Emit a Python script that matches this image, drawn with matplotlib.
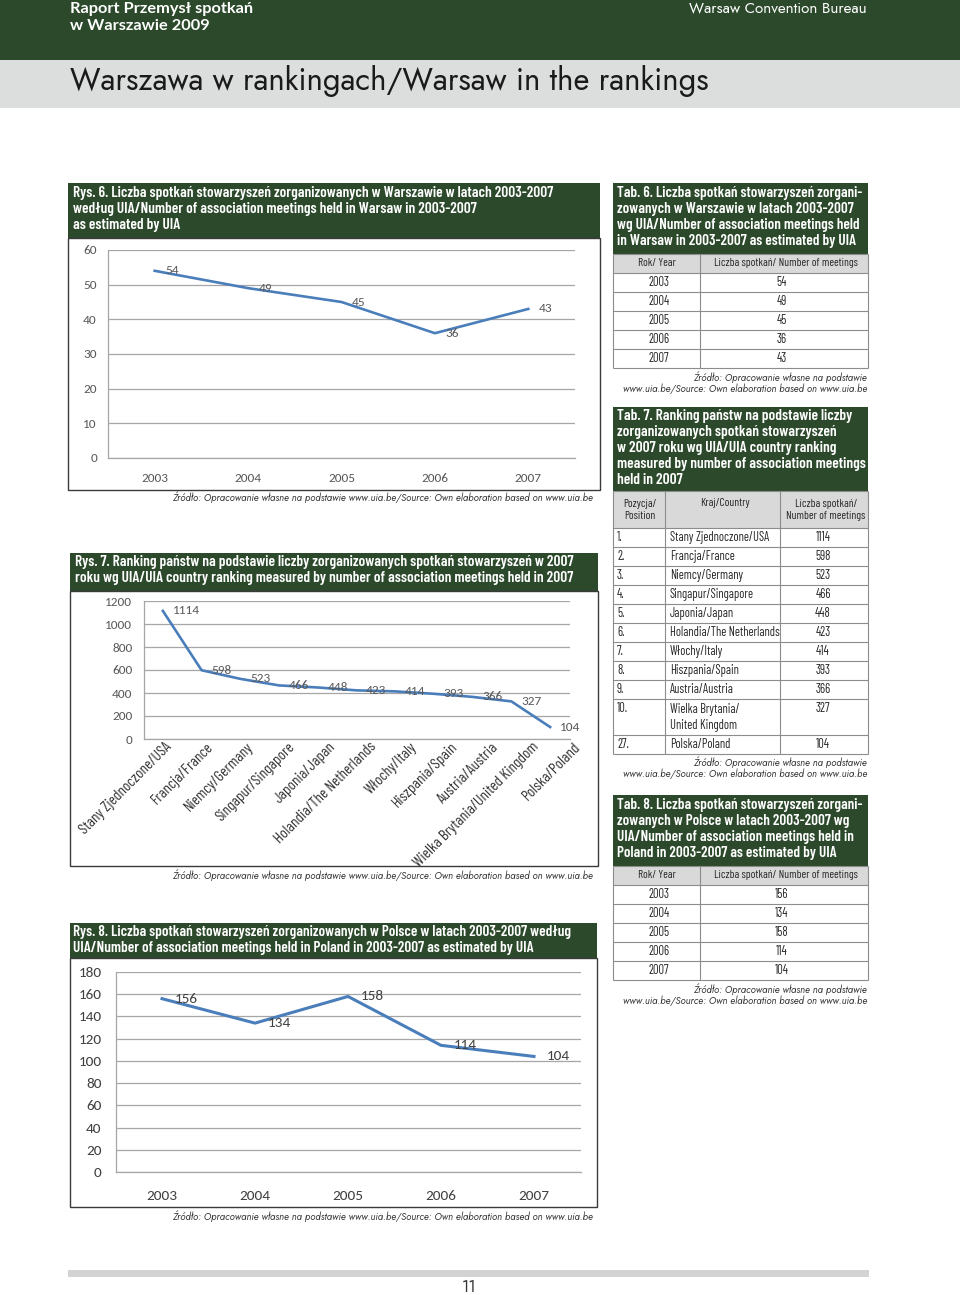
import matplotlib
matplotlib.use('Agg')
import matplotlib.pyplot as plt
from matplotlib import font_manager as fm
from matplotlib.patches import Rectangle

# ---------------- data ----------------
years = ['2003', '2004', '2005', '2006', '2007']
warsaw_meetings = [54, 49, 45, 36, 43]
poland_meetings = [156, 134, 158, 114, 104]
rank_positions = ['1.', '2.', '3.', '4.', '5.', '6.', '7.', '8.', '9.', '10.', '27.']
countries = ['Stany Zjednoczone/USA', 'Francja/France', 'Niemcy/Germany',
             'Singapur/Singapore', 'Japonia/Japan', 'Holandia/The Netherlands',
             'Włochy/Italy', 'Hiszpania/Spain', 'Austria/Austria',
             'Wielka Brytania/United Kingdom', 'Polska/Poland']
country_meetings = [1114, 598, 523, 466, 448, 423, 414, 393, 366, 327, 104]
warsaw_ticks = [0, 10, 20, 30, 40, 50, 60]
country_ticks = [0, 200, 400, 600, 800, 1000, 1200]
poland_ticks = [0, 20, 40, 60, 80, 100, 120, 140, 160, 180]

# ---------------- fonts ----------------
avail = {f.name for f in fm.fontManager.ttflist}


def pick(cands, default):
    for n in cands:
        if n in avail:
            return n
    return default


COND = pick(['Barlow Condensed', 'Asap Condensed', 'Archivo Narrow',
             'Liberation Sans Narrow', 'DejaVu Sans Condensed'], 'DejaVu Sans')
CK = dict(family=[COND, 'DejaVu Sans'])
if COND == 'DejaVu Sans':
    CK['stretch'] = 'condensed'
FUT = pick(['Jost', 'Lato'], 'DejaVu Sans')
FK = dict(family=[FUT, 'DejaVu Sans'])
FKB = dict(family=[pick(['Lato'], 'DejaVu Sans'), 'DejaVu Sans'])
XL = dict(family=[pick(['Carlito', 'Lato'], 'DejaVu Sans'), 'DejaVu Sans'])
IT = dict(family=[FUT, 'DejaVu Sans'], style='italic')
TITLE_W = 600 if COND != 'DejaVu Sans' else 'bold'

GREEN = '#2c4a2b'
BLUE = '#4a7ebb'
W, H = 960, 1295

fig = plt.figure(figsize=(W / 100, H / 100), dpi=100)
fig.patch.set_facecolor('white')
bg = fig.add_axes([0, 0, 1, 1])
bg.set_xlim(0, W)
bg.set_ylim(H, 0)
bg.axis('off')
renderer = fig.canvas.get_renderer()


def fit_size(s, width, base=10, **kw):
    t = bg.text(0, 0, s, fontsize=base, **kw)
    w = t.get_window_extent(renderer).width
    t.remove()
    return base * width / w


def rect(x0, y0, x1, y1, **kw):
    bg.add_patch(Rectangle((x0, y0), x1 - x0, y1 - y0, **kw))


def hline(y, x0, x1, color='#8c8c8c', lw=0.8):
    bg.plot([x0, x1], [y, y], color=color, lw=lw, solid_capstyle='butt')


def vline(x, y0, y1, color='#8c8c8c', lw=0.8):
    bg.plot([x, x], [y0, y1], color=color, lw=lw, solid_capstyle='butt')


def title_block(x, ys, lines, ref_idx, ref_width, maxsize=13):
    size = min(maxsize, fit_size(lines[ref_idx], ref_width, weight=TITLE_W, **CK))
    for y, s in zip(ys, lines):
        bg.text(x, y, s, fontsize=size, weight=TITLE_W, color='white',
                va='center', ha='left', **CK)


# ---------------- page header ----------------
rect(0, 0, W, 60, color=GREEN, lw=0)
rect(0, 60, W, 108, color='#dcdddd', lw=0)
s = fit_size('Raport Przemysł spotkań', 183, weight='bold', **FKB)
bg.text(70, 9, 'Raport Przemysł spotkań', fontsize=s, weight='bold', color='white', va='center', **FKB)
bg.text(70, 26, 'w Warszawie 2009', fontsize=s, weight='bold', color='white', va='center', **FKB)
s = fit_size('Warsaw Convention Bureau', 177, **FK)
bg.text(867, 9, 'Warsaw Convention Bureau', fontsize=s, color='white', va='center', ha='right', **FK)
s = fit_size('Warszawa w rankingach/Warsaw in the rankings', 634, **FK)
bg.text(70, 81, 'Warszawa w rankingach/Warsaw in the rankings', fontsize=s,
        color='#1a1a1a', va='center', **FK)

# footer
rect(68, 1270, 869, 1277, color='#d3d3d3', lw=0)
bg.text(469, 1288, '11', fontsize=12, color='#333333', ha='center', va='center', **FK)

SRC1 = 'Źródło: Opracowanie własne na podstawie www.uia.be/Source: Own elaboration based on www.uia.be'
SRC_A = 'Źródło: Opracowanie własne na podstawie'
SRC_B = 'www.uia.be/Source: Own elaboration based on www.uia.be'
src_size = fit_size(SRC1, 421, **IT)


def chart_source(y):
    bg.text(593, y, SRC1, fontsize=src_size, color='#3a3a3a', ha='right', va='center', **IT)


def table_source(y):
    bg.text(867, y, SRC_A, fontsize=src_size, color='#3a3a3a', ha='right', va='center', **IT)
    bg.text(867, y + 12, SRC_B, fontsize=src_size, color='#3a3a3a', ha='right', va='center', **IT)


def px_axes(l, t, r, b):
    ax = fig.add_axes([l / W, 1 - b / H, (r - l) / W, (b - t) / H])
    ax.set_facecolor('none')
    for sp in ['top', 'right']:
        ax.spines[sp].set_visible(False)
    for sp in ['left', 'bottom']:
        ax.spines[sp].set_color('#a6a6a6')
        ax.spines[sp].set_linewidth(0.9)
    ax.grid(axis='y', color='#a6a6a6', lw=0.9)
    ax.set_axisbelow(True)
    ax.tick_params(length=0)
    return ax


def style_ticks(labels, fam, size, color):
    for lab in labels:
        lab.set_fontfamily(fam)
        lab.set_fontsize(size)
        lab.set_color(color)


# ---------------- Rys. 6 ----------------
rect(68, 183, 600, 238, color=GREEN, lw=0)
rect(68, 238, 600, 490, facecolor='white', edgecolor='#3a3a3a', lw=1)
title_block(73, [193, 209, 225],
            ['Rys. 6. Liczba spotkań stowarzyszeń zorganizowanych w Warszawie w latach 2003-2007',
             'według UIA/Number of association meetings held in Warsaw in 2003-2007',
             'as estimated by UIA'], 0, 477)
chart_source(497)

ax1 = px_axes(108, 250, 575, 458)
x1 = list(range(len(years)))
ax1.plot(x1, warsaw_meetings, color=BLUE, lw=1.9)
ax1.set_xlim(-0.5, len(years) - 0.5)
ax1.set_ylim(0, 60)
ax1.set_yticks(warsaw_ticks)
ax1.set_xticks(x1)
ax1.set_xticklabels(years)
style_ticks(ax1.get_xticklabels() + ax1.get_yticklabels(), XL['family'], 9.5, '#595959')
ax1.tick_params(axis='y', pad=8)
ax1.tick_params(axis='x', pad=11)
for xi, v in zip(x1, warsaw_meetings):
    ax1.annotate(str(v), (xi, v), xytext=(7.5, 0), textcoords='offset points',
                 va='center', ha='left', fontsize=9.5, color='#595959', family=XL['family'])

# ---------------- Rys. 7 ----------------
rect(70, 553, 598, 591, color=GREEN, lw=0)
rect(70, 591, 598, 866, facecolor='white', edgecolor='#3a3a3a', lw=1)
title_block(75, [562, 578],
            ['Rys. 7. Ranking państw na podstawie liczby zorganizowanych spotkań stowarzyszeń w 2007',
             'roku wg UIA/UIA country ranking measured by number of association meetings held in 2007'],
            0, 497)
chart_source(875)

ax2 = px_axes(143.5, 601, 569.5, 739)
x2 = list(range(len(countries)))
ax2.plot(x2, country_meetings, color=BLUE, lw=1.9)
ax2.set_xlim(-0.5, len(countries) - 0.5)
ax2.set_ylim(0, 1200)
ax2.set_yticks(country_ticks)
ax2.set_xticks(x2)
ax2.set_xticklabels([''] * len(countries))
style_ticks(ax2.get_yticklabels(), XL['family'], 9.5, '#595959')
ax2.tick_params(axis='y', pad=8)
csize = fit_size(countries[0], 124, **CK)
for xi, c in zip(x2, countries):
    ax2.annotate(c, (xi, 0), xytext=(5 + 1.5 * xi, -4), textcoords='offset points',
                 rotation=45, ha='right', va='center', rotation_mode='anchor',
                 fontsize=csize, color='#333333', annotation_clip=False, **CK)
for xi, v in zip(x2, country_meetings):
    ax2.annotate(str(v), (xi, v), xytext=(7, 0), textcoords='offset points',
                 va='center', ha='left', fontsize=9.5, color='#595959', family=XL['family'])

# ---------------- Rys. 8 ----------------
rect(70, 923, 597, 958, color=GREEN, lw=0)
rect(70, 958, 597, 1207, facecolor='white', edgecolor='#3a3a3a', lw=1)
title_block(73, [932, 948],
            ['Rys. 8. Liczba spotkań stowarzyszeń zorganizowanych w Polsce w latach 2003-2007 według',
             'UIA/Number of association meetings held in Poland in 2003-2007 as estimated by UIA'],
            0, 495)
chart_source(1216)

ax3 = px_axes(115.5, 972, 580.5, 1172)
x3 = list(range(len(years)))
ax3.plot(x3, poland_meetings, color=BLUE, lw=2.2)
ax3.set_xlim(-0.5, len(years) - 0.5)
ax3.set_ylim(0, 180)
ax3.set_yticks(poland_ticks)
ax3.set_xticks(x3)
ax3.set_xticklabels(years)
style_ticks(ax3.get_xticklabels() + ax3.get_yticklabels(), XL['family'], 11, '#404040')
ax3.tick_params(axis='y', pad=10)
ax3.tick_params(axis='x', pad=13)
for xi, v in zip(x3, poland_meetings):
    ax3.annotate(str(v), (xi, v), xytext=(9, 0), textcoords='offset points',
                 va='center', ha='left', fontsize=11, color='#404040', family=XL['family'])

# ---------------- tables ----------------
TX0, TX1 = 613, 868
tsize = min(11, fit_size('Holandia/The Netherlands', 110, **CK))
TC = '#262626'


def ttext(x, y, s, ha='center', va='center', size=None):
    bg.text(x, y, s, fontsize=size or tsize, color=TC, ha=ha, va=va, **CK)


hsize = min(tsize, fit_size('Liczba spotkań/ Number of meetings', 143, **CK))


def year_table(top_band, band_bottom, title_lines, title_ys, values):
    rect(TX0, top_band, TX1, band_bottom, color=GREEN, lw=0)
    title_block(617, title_ys, title_lines, 0, 244)
    hdr_b = band_bottom + 19
    rect(TX0, band_bottom, TX1, hdr_b, color='#d9d9d9', lw=0)
    ttext(657, (band_bottom + hdr_b) / 2, 'Rok/ Year', size=hsize)
    ttext(786, (band_bottom + hdr_b) / 2, 'Liczba spotkań/ Number of meetings', size=hsize)
    edges = [hdr_b + 19 * i for i in range(len(values) + 1)]
    for i, (yr, v) in enumerate(zip(years, values)):
        yc = (edges[i] + edges[i + 1]) / 2
        ttext(659, yc, yr)
        ttext(782, yc, str(v))
    for e in [band_bottom] + edges:
        hline(e, TX0, TX1)
    for xv in [TX0, 700, TX1]:
        vline(xv, band_bottom, edges[-1])
    table_source(edges[-1] + 9)


year_table(183, 254,
           ['Tab. 6. Liczba spotkań stowarzyszeń zorgani-',
            'zowanych w Warszawie w latach 2003-2007',
            'wg UIA/Number of association meetings held',
            'in Warsaw in 2003-2007 as estimated by UIA'],
           [193, 209, 225, 241], warsaw_meetings)

year_table(795, 866,
           ['Tab. 8. Liczba spotkań stowarzyszeń zorgani-',
            'zowanych w Polsce w latach 2003-2007 wg',
            'UIA/Number of association meetings held in',
            'Poland in 2003-2007 as estimated by UIA'],
           [805, 821, 837, 853], poland_meetings)

# Tab. 7
rect(TX0, 407, TX1, 491, color=GREEN, lw=0)
title_block(617, [416, 432, 448, 464, 480],
            ['Tab. 7. Ranking państw na podstawie liczby',
             'zorganizowanych spotkań stowarzyszeń',
             'w 2007 roku wg UIA/UIA country ranking',
             'measured by number of association meetings',
             'held in 2007'], 3, 248)
rect(TX0, 491, TX1, 528, color='#d9d9d9', lw=0)
ttext(640, 510, 'Pozycja/\nPosition', size=hsize)
ttext(725, 503, 'Kraj/Country', size=hsize)
ttext(826, 510, 'Liczba spotkań/\nNumber of meetings', size=hsize)
row_h = [36 if len(c) > 26 else 19 for c in countries]
edges7 = [528]
for h in row_h:
    edges7.append(edges7[-1] + h)
for i, (p, c, v) in enumerate(zip(rank_positions, countries, country_meetings)):
    if row_h[i] > 19:
        yc = edges7[i] + 10
        a, b = c.split('/', 1)
        ttext(617, yc, p, ha='left')
        ttext(670, yc, a + '/', ha='left')
        ttext(670, yc + 16, b, ha='left')
        ttext(823, yc, str(v))
    else:
        yc = (edges7[i] + edges7[i + 1]) / 2
        ttext(617, yc, p, ha='left')
        ttext(670, yc, c, ha='left')
        ttext(823, yc, str(v))
for e in [491] + edges7:
    hline(e, TX0, TX1)
for xv in [TX0, 665, 780, TX1]:
    vline(xv, 491, edges7[-1])
table_source(edges7[-1] + 8)

fig.savefig('out.png', dpi=100, facecolor='white')
